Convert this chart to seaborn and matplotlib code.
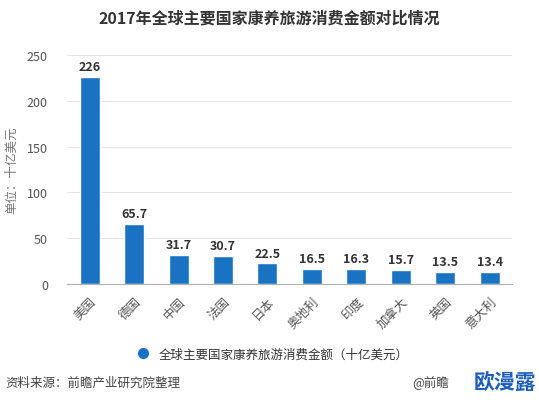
import matplotlib
matplotlib.use("Agg")
import matplotlib.pyplot as plt
import seaborn as sns
import pandas as pd
from matplotlib.lines import Line2D

countries = ["美国", "德国", "中国", "法国", "日本", "奥地利", "印度", "加拿大", "英国", "意大利"]
values = [226, 65.7, 31.7, 30.7, 22.5, 16.5, 16.3, 15.7, 13.5, 13.4]
yticks = [0, 50, 100, 150, 200, 250]

sns.set_style("white")
plt.rcParams['font.family'] = ['Noto Sans CJK SC', 'DejaVu Sans']

df = pd.DataFrame({"country": countries, "value": values})
bar_color = "#1a73c2"

fig = plt.figure(figsize=(5.39, 4.06), dpi=100)
ax = fig.add_axes([0.125, 0.298, 0.825, 0.564])
sns.barplot(data=df, x="country", y="value", color=bar_color, width=0.45,
            saturation=1, ax=ax)

ax.set_ylim(0, 250)
ax.set_yticks(yticks)
ax.yaxis.grid(True, color="#e6e6e6", linewidth=0.8)
ax.set_axisbelow(True)
for s in ["top", "right", "left"]:
    ax.spines[s].set_visible(False)
ax.spines["bottom"].set_color("#b0b0b0")
ax.tick_params(axis="y", length=0, labelsize=9, labelcolor="#555555", pad=14)
ax.tick_params(axis="x", length=4, color="#b0b0b0", labelsize=9, labelcolor="#555555")
plt.setp(ax.get_xticklabels(), rotation=45, ha="right", rotation_mode="anchor")
ax.set_xlabel("")
ax.set_ylabel("单位：十亿美元", fontsize=9, color="#777777", labelpad=6)

for i, v in enumerate(values):
    ax.text(i, v + 4, f"{v:g}", ha="center", va="bottom", fontsize=9,
            fontweight="bold", color="#333333")

fig.text(0.5, 0.955, "2017年全球主要国家康养旅游消费金额对比情况", ha="center",
         va="center", fontsize=11.5, fontweight="bold", color="#333333")

handle = Line2D([], [], marker="o", linestyle="", markersize=7,
                markerfacecolor=bar_color, markeredgecolor=bar_color)
fig.legend([handle], ["全球主要国家康养旅游消费金额（十亿美元）"], loc="center",
           bbox_to_anchor=(0.5, 0.125), frameon=False, fontsize=9,
           handletextpad=0.3, labelcolor="#333333")

fig.text(0.01, 0.057, "资料来源：前瞻产业研究院整理", ha="left", va="center",
         fontsize=9, color="#444444")
fig.text(0.765, 0.057, "@前瞻", ha="left", va="center", fontsize=9, color="#444444")
fig.text(0.995, 0.057, "欧漫露", ha="right", va="center", fontsize=15,
         fontweight="bold", color="#1d5fb8")

fig.savefig("out.png", dpi=100)
